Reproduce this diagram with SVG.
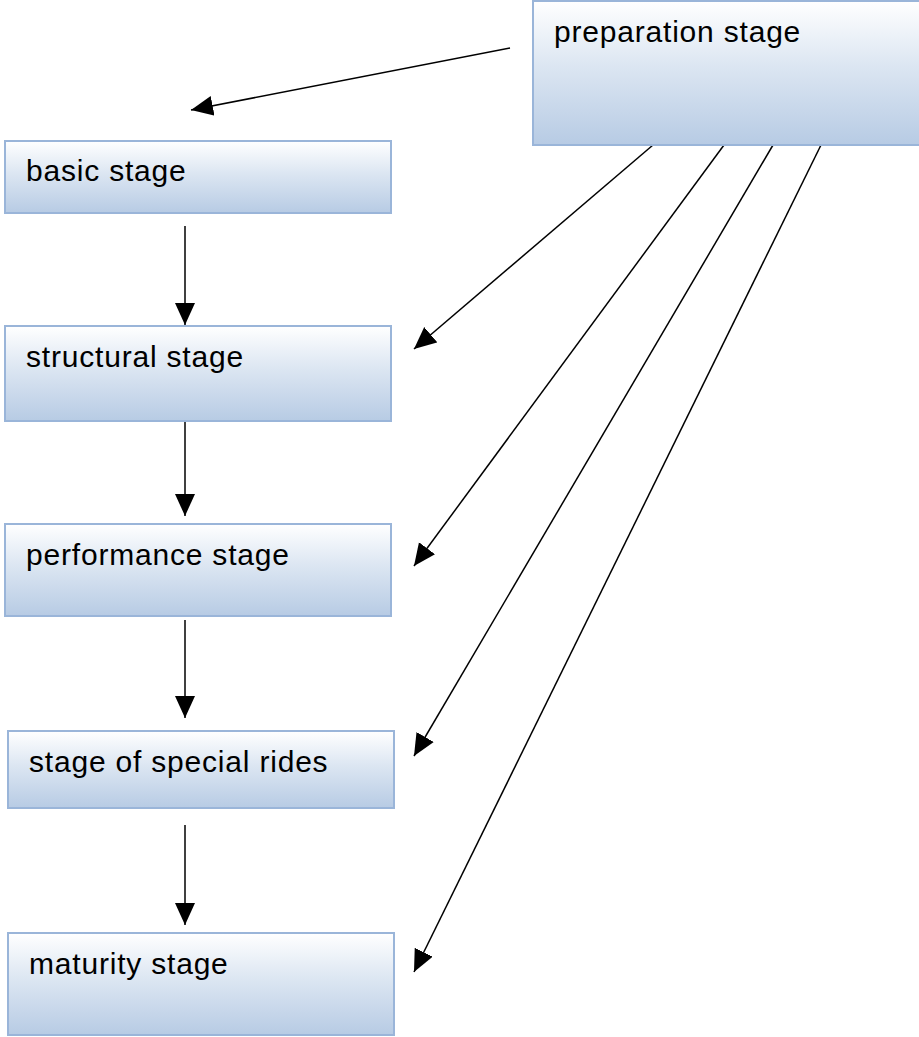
<svg xmlns="http://www.w3.org/2000/svg" width="919" height="1037" viewBox="0 0 919 1037">
  <style>
    .box { fill: url(#boxFill); stroke: #9ab5d9; stroke-width: 2; }
    .label { font-family: "Liberation Sans", Arial, sans-serif; font-size: 30px; letter-spacing: 0.8px; fill: #000; }
    .edge { stroke: #000; stroke-width: 1.5; fill: none; marker-end: url(#arrow); }
  </style>
  <defs>
    <linearGradient id="boxFill" x1="0" y1="0" x2="0" y2="1">
      <stop offset="0" stop-color="#ffffff"/>
      <stop offset="0.45" stop-color="#dce6f2"/>
      <stop offset="1" stop-color="#b7cbe4"/>
    </linearGradient>
    <marker id="arrow" markerUnits="userSpaceOnUse" markerWidth="24" markerHeight="22" refX="22" refY="10" orient="auto">
      <path d="M0,0 L22,10 L0,20 Z" fill="#000"/>
    </marker>
  </defs>

  <!-- connectors -->
  <g id="connectors">
    <line class="edge" x1="510" y1="48" x2="191" y2="110"/>
    <line class="edge" x1="185" y1="226" x2="185" y2="325"/>
    <line class="edge" x1="185" y1="416" x2="185" y2="516"/>
    <line class="edge" x1="185" y1="620" x2="185" y2="718"/>
    <line class="edge" x1="185" y1="825" x2="185" y2="925"/>
    <line class="edge" x1="653" y1="145" x2="414" y2="349"/>
    <line class="edge" x1="724" y1="145" x2="414" y2="566"/>
    <line class="edge" x1="773" y1="145" x2="414" y2="756"/>
    <line class="edge" x1="821" y1="145" x2="414" y2="972"/>
  </g>

  <!-- stages -->
  <g id="preparation">
    <rect class="box" x="533" y="1" width="392" height="144"/>
    <text class="label" x="554" y="42">preparation stage</text>
  </g>
  <g id="basic">
    <rect class="box" x="5" y="141" width="386" height="72"/>
    <text class="label" x="26" y="181">basic stage</text>
  </g>
  <g id="structural">
    <rect class="box" x="5" y="326" width="386" height="95"/>
    <text class="label" x="26" y="367">structural stage</text>
  </g>
  <g id="performance">
    <rect class="box" x="5" y="524" width="386" height="92"/>
    <text class="label" x="26" y="565">performance stage</text>
  </g>
  <g id="special-rides">
    <rect class="box" x="8" y="731" width="386" height="77"/>
    <text class="label" x="29" y="772">stage of special rides</text>
  </g>
  <g id="maturity">
    <rect class="box" x="8" y="933" width="386" height="102"/>
    <text class="label" x="29" y="974">maturity stage</text>
  </g>
</svg>
